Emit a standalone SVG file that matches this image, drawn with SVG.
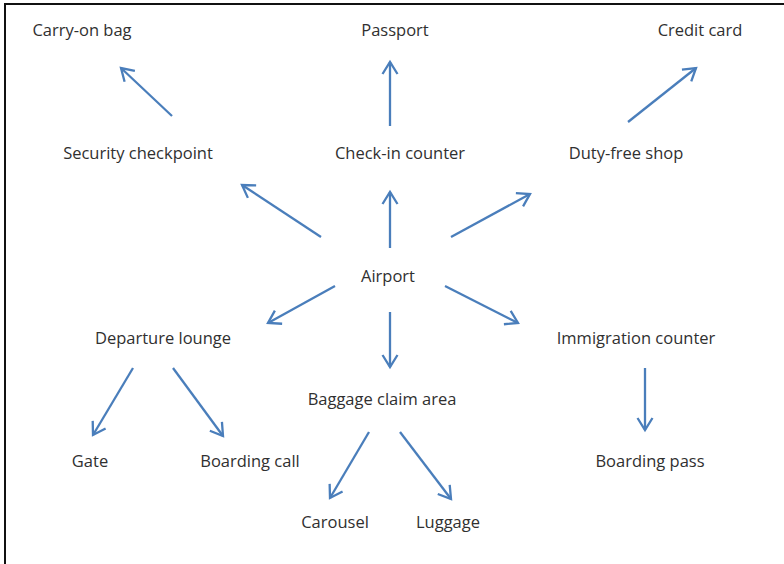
<svg xmlns="http://www.w3.org/2000/svg" width="784" height="564" viewBox="0 0 784 564">
<style>
text{font-family:"Open Sans","Noto Sans","Liberation Sans",sans-serif;font-size:16.5px;fill:#303030;text-anchor:middle}
.c line{stroke:#4A7EBB;stroke-width:2.3;fill:none;marker-end:url(#ah)}
</style>
<defs>
<marker id="ah" markerUnits="userSpaceOnUse" viewBox="-16 -10 20 20" refX="0" refY="0" markerWidth="20" markerHeight="20" orient="auto">
<path d="M-12,-7.5 L0,0 L-12,7.5" fill="none" stroke="#4A7EBB" stroke-width="2.3"/>
</marker>
</defs>
<rect width="784" height="564" fill="#fff"/>
<path d="M5,564 L5,4 L784,4" fill="none" stroke="#111" stroke-width="2"/>
<g id="carry-on-bag"><text x="82" y="36">Carry-on bag</text></g>
<g id="passport"><text x="395" y="36">Passport</text></g>
<g id="credit-card"><text x="700" y="36">Credit card</text></g>
<g id="security-checkpoint"><text x="138" y="159">Security checkpoint</text></g>
<g id="check-in-counter"><text x="400" y="159">Check-in counter</text></g>
<g id="duty-free-shop"><text x="626" y="159">Duty-free shop</text></g>
<g id="airport"><text x="388" y="282">Airport</text></g>
<g id="departure-lounge"><text x="163" y="344">Departure lounge</text></g>
<g id="immigration-counter"><text x="636" y="344">Immigration counter</text></g>
<g id="baggage-claim-area"><text x="382" y="405">Baggage claim area</text></g>
<g id="gate"><text x="90" y="467">Gate</text></g>
<g id="boarding-call"><text x="250" y="467">Boarding call</text></g>
<g id="boarding-pass"><text x="650" y="467">Boarding pass</text></g>
<g id="carousel"><text x="335" y="528">Carousel</text></g>
<g id="luggage"><text x="448" y="528">Luggage</text></g>
<g class="c" id="connectors">
<line x1="172" y1="116" x2="121" y2="68"/>
<line x1="390" y1="126" x2="390" y2="62"/>
<line x1="628" y1="122" x2="696" y2="68"/>
<line x1="321" y1="237" x2="242" y2="185"/>
<line x1="390" y1="248" x2="390" y2="192"/>
<line x1="451" y1="237" x2="530" y2="194"/>
<line x1="335" y1="286" x2="268" y2="323"/>
<line x1="390" y1="312" x2="390" y2="367"/>
<line x1="445" y1="286" x2="518" y2="323"/>
<line x1="133" y1="368" x2="93" y2="435"/>
<line x1="173" y1="368" x2="223" y2="436"/>
<line x1="369" y1="432" x2="330" y2="498"/>
<line x1="400" y1="432" x2="451" y2="499"/>
<line x1="645" y1="368" x2="645" y2="430"/>
</g>
</svg>
